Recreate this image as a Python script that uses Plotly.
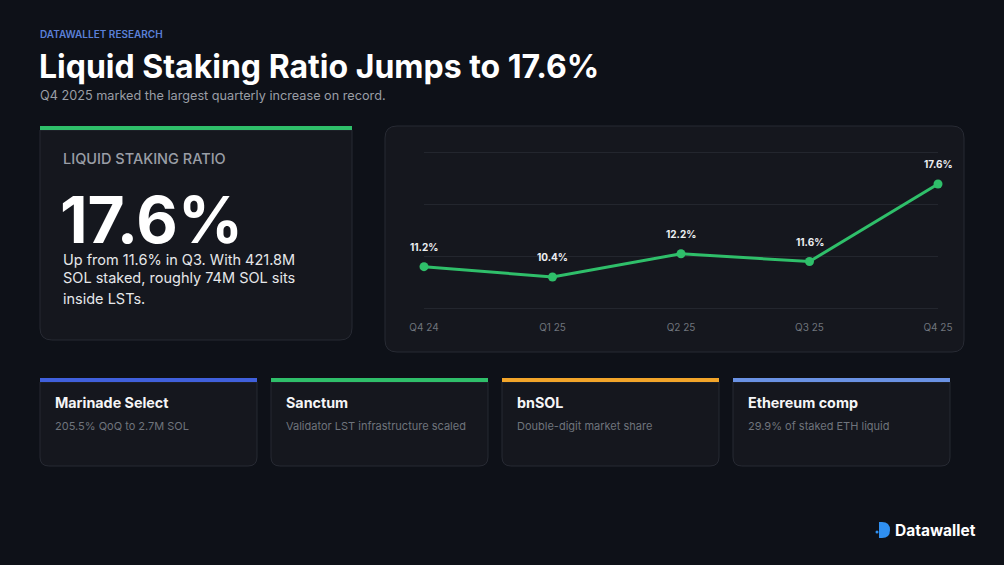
import plotly.graph_objects as go

# ---- data -------------------------------------------------------------
quarters = ["Q4 24", "Q1 25", "Q2 25", "Q3 25", "Q4 25"]
lst_ratio = [11.2, 10.4, 12.2, 11.6, 17.6]

headline_value = "17.6%"
headline_note = ["Up from 11.6% in Q3. With 421.8M",
                 "SOL staked, roughly 74M SOL sits",
                 "inside LSTs."]

card_titles = ["Marinade Select", "Sanctum", "bnSOL", "Ethereum comp"]
card_notes = ["205.5% QoQ to 2.7M SOL", "Validator LST infrastructure scaled",
              "Double-digit market share", "29.9% of staked ETH liquid"]

# ---- style ------------------------------------------------------------
W, H = 1004, 565
BG = "#0e1118"
CARD = "#15171e"
BORDER = "#272a33"
GRID = "#23262e"
WHITE = "#f3f4f6"
MUTED = "#9a9ea6"
DIM = "#6f747c"
GREEN = "#2fbf6a"
ACCENT = "#5b80d8"
CARD_BARS = ["#4060dc", "#2fbf6a", "#f2a52a", "#6a92e4"]
FONT = "Inter, Roboto, sans-serif"


def px(x):
    return x / W


def py(y):
    return 1 - y / H


def rounded(x0, y0, x1, y1, r, top=True):
    rt = r if top else 0
    pts = [
        ("M", [(x0 + rt, y0)]), ("L", [(x1 - rt, y0)]), ("Q", [(x1, y0), (x1, y0 + rt)]),
        ("L", [(x1, y1 - r)]), ("Q", [(x1, y1), (x1 - r, y1)]),
        ("L", [(x0 + r, y1)]), ("Q", [(x0, y1), (x0, y1 - r)]),
        ("L", [(x0, y0 + rt)]), ("Q", [(x0, y0), (x0 + rt, y0)]),
    ]
    out = ""
    for cmd, coords in pts:
        out += cmd + " ".join(f"{px(a):.5f},{py(b):.5f}" for a, b in coords) + " "
    return out + "Z"


shapes, notes = [], []


def panel(x0, y0, x1, y1, r, top=True, bar=None):
    shapes.append(dict(type="path", xref="paper", yref="paper", layer="below",
                       path=rounded(x0, y0, x1, y1, r, top),
                       fillcolor=CARD, line=dict(color=BORDER, width=1)))
    if bar:
        shapes.append(dict(type="rect", xref="paper", yref="paper", layer="below",
                           x0=px(x0), x1=px(x1), y0=py(y0 - 4), y1=py(y0),
                           fillcolor=bar, line=dict(width=0)))


def text(x, y, s, size, color, bold=False, anchor="left", weight=None):
    notes.append(dict(xref="paper", yref="paper", x=px(x), y=py(y), text=s,
                      showarrow=False, xanchor=anchor, yanchor="middle",
                      font=dict(family=FONT, size=size, color=color,
                                weight=weight or (700 if bold else 400))))


# header
text(38, 34, "DATAWALLET RESEARCH", 10, ACCENT, weight=600)
text(37, 67, "Liquid Staking Ratio Jumps to 17.6%", 32, "#ffffff", bold=True)
text(38, 95, "Q4 2025 marked the largest quarterly increase on record.", 12.7, MUTED)

# headline card
panel(40, 130, 352, 340, 12, top=False, bar=GREEN)
text(61, 158, "LIQUID STAKING RATIO", 14.5, MUTED, weight=500)
text(58, 220, headline_value, 64, "#ffffff", bold=True)
for i, line in enumerate(headline_note):
    text(61, 259 + i * 19.5, line, 14.5, "#e6e7ea")

# chart panel
panel(385, 126, 964, 352, 12)

# bottom cards
for i, (t, n) in enumerate(zip(card_titles, card_notes)):
    x0 = 40 + i * 231
    panel(x0, 382, x0 + 217, 466, 9, top=False, bar=CARD_BARS[i])
    text(x0 + 13, 402, t, 14.3, "#f5f5f7", bold=True)
    text(x0 + 13, 426, n, 11, DIM)

# logo
shapes.append(dict(type="path", xref="paper", yref="paper",
                   path=f"M{px(879):.5f},{py(522):.5f} L{px(882):.5f},{py(522):.5f} "
                        f"Q{px(890):.5f},{py(522):.5f} {px(890):.5f},{py(530):.5f} "
                        f"Q{px(890):.5f},{py(538):.5f} {px(882):.5f},{py(538):.5f} "
                        f"L{px(879):.5f},{py(538):.5f} Z",
                   fillcolor="#2f8ff0", line=dict(width=0)))
shapes.append(dict(type="circle", xref="paper", yref="paper",
                   x0=px(875.5), x1=px(878.5), y0=py(533.5), y1=py(530.5),
                   fillcolor="#2f8ff0", line=dict(width=0)))
text(893, 530, "Datawallet", 15.5, "#ffffff", bold=True)

# value labels on the line
for q, v in zip(quarters, lst_ratio):
    notes.append(dict(x=q, y=v, xref="x", yref="y", text=f"{v}%", showarrow=False,
                      yshift=20, font=dict(family=FONT, size=10, color="#eceef1", weight=700)))

fig = go.Figure(go.Scatter(
    x=quarters, y=lst_ratio, mode="lines+markers",
    line=dict(color=GREEN, width=3),
    marker=dict(color=GREEN, size=9),
    cliponaxis=False, hoverinfo="skip",
))

# y range padded slightly so the 8% and 20% gridlines are drawn
fig.update_layout(
    width=W, height=H, autosize=False,
    margin=dict(l=0, r=0, t=0, b=0, pad=0, autoexpand=False),
    paper_bgcolor=BG, plot_bgcolor="rgba(0,0,0,0)",
    font=dict(family=FONT, color=WHITE),
    showlegend=False,
    xaxis=dict(domain=[px(424), px(938)], type="category", range=[0, 4],
               showgrid=False, zeroline=False, showline=False, automargin=False,
               tickfont=dict(size=10, color=DIM), ticks="", ticklabelstandoff=11),
    yaxis=dict(domain=[py(309.3), py(151.7)], range=[7.9, 20.1], tick0=8, dtick=4,
               showticklabels=False, showgrid=True, gridcolor=GRID, gridwidth=1,
               zeroline=False, showline=False, automargin=False),
    shapes=shapes,
    annotations=notes,
)

fig.write_html("out.html", config={"displayModeBar": False},
               post_script="document.body.style.margin='0';")
